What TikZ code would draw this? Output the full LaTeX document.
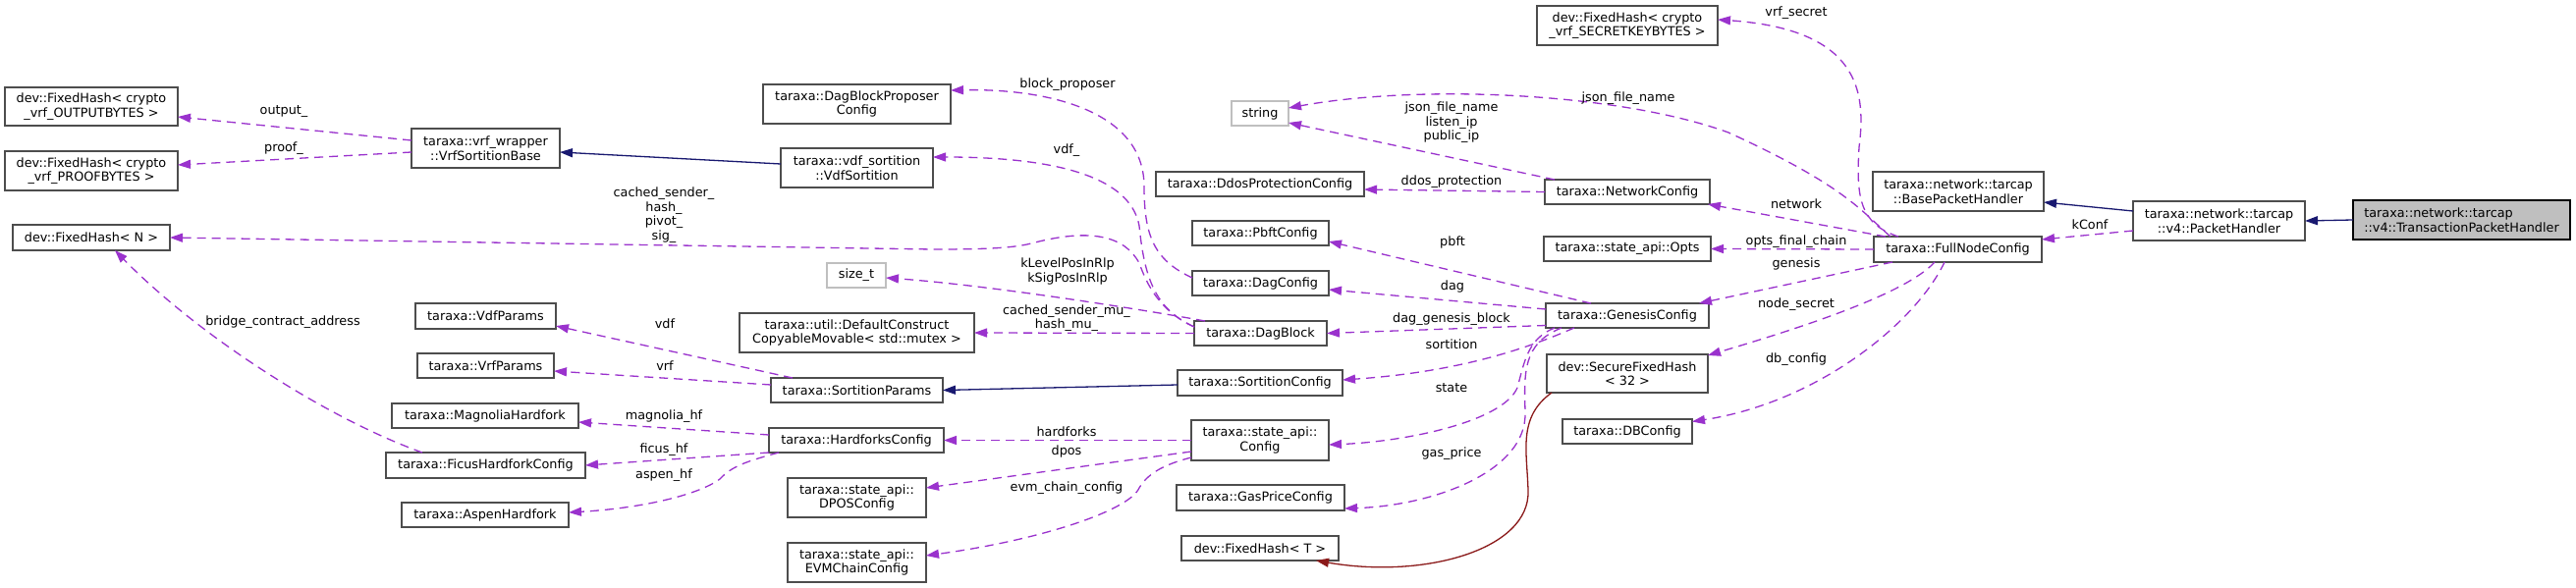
\documentclass[tikz,border=0pt]{standalone}
\usepackage{fontspec}
\setmainfont{DejaVu Sans}
\usetikzlibrary{arrows.meta,calc}
\definecolor{edgepurple}{HTML}{9A32CD}
\definecolor{edgenavy}{HTML}{191970}
\definecolor{edgered}{HTML}{8B1A1A}
\definecolor{boxgray}{HTML}{4D4D4D}
\definecolor{extgray}{HTML}{BFBFBF}
\definecolor{rootfill}{HTML}{BFBFBF}
\begin{document}
\begin{tikzpicture}[x=1pt,y=-1pt,
  every node/.style={font=\fontsize{12.8}{14.5}\selectfont, inner sep=0pt, outer sep=0pt},
  cls/.style={draw=boxgray, line width=1.3pt, fill=white, align=center},
  ext/.style={draw=extgray, line width=1.3pt, fill=white, align=center},
  root/.style={draw=black, line width=1.3pt, fill=rootfill, align=left},
  lbl/.style={align=center},
  tipA/.style={-{Triangle[length=13pt,width=9pt]}},
  use/.style={draw=edgepurple, line width=1.3pt, dash pattern=on 9pt off 6pt, tipA},
  inh/.style={draw=edgenavy, line width=1.3pt, tipA},
  tmpl/.style={draw=edgered, line width=1.3pt, tipA}
]
\fill[white] (0,0) rectangle (2623,599);
\useasboundingbox (0,0) rectangle (2623,599);

% classes
\node[cls, minimum width=176pt, minimum height=39pt] (fhout) at (93,108.5) {dev::FixedHash< crypto\\\_vrf\_OUTPUTBYTES >};
\node[cls, minimum width=176pt, minimum height=40pt] (fhproof) at (93,174) {dev::FixedHash< crypto\\\_vrf\_PROOFBYTES >};
\node[cls, minimum width=160pt, minimum height=26pt] (fhn) at (93,242) {dev::FixedHash< N >};
\node[cls, minimum width=151pt, minimum height=40pt] (vsb) at (494.5,151) {taraxa::vrf\_wrapper\\::VrfSortitionBase};
\node[cls, minimum width=191pt, minimum height=40pt] (dbpc) at (872.5,106) {taraxa::DagBlockProposer\\Config};
\node[cls, minimum width=155pt, minimum height=40pt] (vdfs) at (872.5,171) {taraxa::vdf\_sortition\\::VdfSortition};
\node[ext, minimum width=60pt, minimum height=25pt] (sizet) at (872,280.5) {size\_t};
\node[cls, minimum width=143pt, minimum height=26pt] (vdfp) at (494.5,322) {taraxa::VdfParams};
\node[cls, minimum width=139pt, minimum height=25pt] (vrfp) at (494.5,372.5) {taraxa::VrfParams};
\node[cls, minimum width=190pt, minimum height=25pt] (magn) at (494,423.5) {taraxa::MagnoliaHardfork};
\node[cls, minimum width=203pt, minimum height=26pt] (ficus) at (494.5,474) {taraxa::FicusHardforkConfig};
\node[cls, minimum width=170pt, minimum height=25pt] (aspen) at (494,524.5) {taraxa::AspenHardfork};
\node[cls, minimum width=239pt, minimum height=40pt] (dcm) at (872.5,339) {taraxa::util::DefaultConstruct\\CopyableMovable< std::mutex >};
\node[cls, minimum width=175pt, minimum height=25pt] (sp) at (872.5,397.5) {taraxa::SortitionParams};
\node[cls, minimum width=178pt, minimum height=25pt] (hfc) at (872,448.5) {taraxa::HardforksConfig};
\node[cls, minimum width=141pt, minimum height=40pt] (dpos) at (872.5,507) {taraxa::state\_api::\\DPOSConfig};
\node[cls, minimum width=141pt, minimum height=40pt] (evm) at (872.5,573) {taraxa::state\_api::\\EVMChainConfig};
\node[ext, minimum width=58pt, minimum height=25pt] (str) at (1283,115.5) {string};
\node[cls, minimum width=212pt, minimum height=25pt] (ddos) at (1283,187.5) {taraxa::DdosProtectionConfig};
\node[cls, minimum width=139pt, minimum height=25pt] (pbft) at (1283.5,237.5) {taraxa::PbftConfig};
\node[cls, minimum width=139pt, minimum height=25pt] (dagc) at (1283.5,288.5) {taraxa::DagConfig};
\node[cls, minimum width=135pt, minimum height=25pt] (dagb) at (1283.5,339.5) {taraxa::DagBlock};
\node[cls, minimum width=168pt, minimum height=26pt] (sc) at (1283,390) {taraxa::SortitionConfig};
\node[cls, minimum width=140pt, minimum height=41pt] (sapic) at (1283,448.5) {taraxa::state\_api::\\Config};
\node[cls, minimum width=171pt, minimum height=26pt] (gas) at (1283.5,507) {taraxa::GasPriceConfig};
\node[cls, minimum width=160pt, minimum height=25pt] (fht) at (1283,558.5) {dev::FixedHash< T >};
\node[cls, minimum width=184pt, minimum height=40pt] (fhsec) at (1657,26) {dev::FixedHash< crypto\\\_vrf\_SECRETKEYBYTES >};
\node[cls, minimum width=168pt, minimum height=25pt] (netc) at (1657,195.5) {taraxa::NetworkConfig};
\node[cls, minimum width=170pt, minimum height=25pt] (opts) at (1657,253.5) {taraxa::state\_api::Opts};
\node[cls, minimum width=166pt, minimum height=25pt] (gen) at (1657,321.5) {taraxa::GenesisConfig};
\node[cls, minimum width=164pt, minimum height=39pt] (sfh) at (1657,380.5) {dev::SecureFixedHash\\< 32 >};
\node[cls, minimum width=132pt, minimum height=25pt] (dbc) at (1657,439.5) {taraxa::DBConfig};
\node[cls, minimum width=174pt, minimum height=40pt] (bph) at (1994,195) {taraxa::network::tarcap\\::BasePacketHandler};
\node[cls, minimum width=171pt, minimum height=26pt] (fnc) at (1993.5,254) {taraxa::FullNodeConfig};
\node[cls, minimum width=175pt, minimum height=40pt] (ph) at (2259.5,225) {taraxa::network::tarcap\\::v4::PacketHandler};
\node[root, minimum width=221pt, minimum height=40pt] (tph) at (2506.5,224) {taraxa::network::tarcap\\::v4::TransactionPacketHandler};

% inheritance
\draw[inh] (tph.west) -- (ph.east);
\draw[inh] ($(ph.west)+(0,-10)$) -- ($(bph.east)+(0,11)$);
\draw[inh] ($(vdfs.west)+(0,-4)$) -- ($(vsb.east)+(0,4)$);
\draw[inh] ($(sc.west)+(0,2)$) -- (sp.east);
% template instance
\draw[tmpl] ($(sfh.south west)+(5,0)$) .. controls (1545,425) and (1555,460) .. (1556,500) .. controls (1558,560) and (1450,590) .. ($(fht.south east)+(-23,0)$);

% usage
\draw[use] ($(ph.west)+(0,10)$) -- ($(fnc.east)+(0,-10)$);
\draw[use] ($(fnc.north west)+(25,0)$) .. controls (1893,228) and (1890,200) .. (1893,150) .. controls (1900,95) and (1895,30) .. ($(fhsec.east)+(0,-6)$);
\draw[use] ($(fnc.north west)+(17,0)$) .. controls (1895,215) and (1880,190) .. (1760,135) .. controls (1650,95) and (1450,85) .. ($(str.east)+(0,-5.5)$);
\draw[use] ($(netc.north west)+(10,0)$) -- ($(str.east)+(0,9.5)$);
\draw[use] ($(fnc.north west)+(12,0)$) -- ($(netc.south east)+(-2,0)$);
\draw[use] (fnc.west) -- (opts.east);
\draw[use] ($(fnc.south west)+(19,0)$) -- ($(gen.north east)+(-10,0)$);
\draw[use] ($(fnc.south west)+(62,0)$) .. controls (1940,300) and (1830,335) .. ($(sfh.east)+(0,-18.5)$);
\draw[use] ($(fnc.south west)+(72,0)$) .. controls (1950,330) and (1850,410) .. ($(dbc.east)+(0,-10)$);
\draw[use] (netc.west) -- ($(ddos.east)+(0,5.5)$);
\draw[use] ($(gen.north west)+(46,0)$) -- ($(pbft.east)+(0,8.5)$);
\draw[use] ($(gen.west)+(0,-6.5)$) -- ($(dagc.east)+(0,6.5)$);
\draw[use] ($(gen.west)+(0,10)$) -- (dagb.east);
\draw[use] ($(gen.south west)+(29,0)$) .. controls (1570,348) and (1500,378) .. ($(sc.east)+(0,-3)$);
\draw[use] ($(gen.south west)+(9,0)$) .. controls (1555,345) and (1552,370) .. (1545,395) .. controls (1530,430) and (1430,450) .. ($(sapic.east)+(0,4.5)$);
\draw[use] ($(gen.south west)+(16,0)$) .. controls (1550,350) and (1552,380) .. (1553,420) .. controls (1555,480) and (1460,515) .. ($(gas.east)+(0,11)$);
\draw[use] ($(dagc.west)+(0,-5.5)$) .. controls (1175,265) and (1165,240) .. (1165,190) .. controls (1165,110) and (1060,90) .. ($(dbpc.east)+(0,-14)$);
\draw[use] ($(dagb.west)+(0,-6.5)$) .. controls (1175,315) and (1165,280) .. (1160,230) .. controls (1150,175) and (1060,160) .. ($(vdfs.east)+(0,-11)$);
\draw[use] ($(dagb.west)+(0,-6.5)$) .. controls (1180,316) and (1168,290) .. (1160,268) .. controls (1145,240) and (1110,232) .. (1050,248) .. controls (1030,253) and (1000,254) .. (950,254) -- (fhn.east);
\draw[use] ($(dagb.north west)+(11,0)$) .. controls (1150,313) and (1000,290) .. ($(sizet.east)+(0,2.5)$);
\draw[use] (dagb.west) -- (dcm.east);
\draw[use] ($(sp.north west)+(22,0)$) -- ($(vdfp.east)+(0,10)$);
\draw[use] ($(sp.west)+(0,-5.5)$) -- ($(vrfp.east)+(0,5.5)$);
\draw[use] ($(hfc.west)+(0,-5.5)$) -- ($(magn.east)+(0,6.5)$);
\draw[use] (hfc.south west) -- (ficus.east);
\draw[use] ($(hfc.south west)+(10,0)$) .. controls (760,470) and (745,475) .. (733,488) .. controls (710,505) and (650,518) .. ($(aspen.east)+(0,-2.5)$);
\draw[use] ($(ficus.north west)+(37,0)$) .. controls (330,425) and (200,340) .. ($(fhn.south)+(24,0)$);
\draw[use] (sapic.west) -- (hfc.east);
\draw[use] ($(sapic.west)+(0,11.5)$) -- ($(dpos.east)+(0,-10)$);
\draw[use] ($(sapic.west)+(0,17.5)$) .. controls (1190,472) and (1170,480) .. (1160,497) .. controls (1150,520) and (1060,550) .. ($(evm.east)+(0,-7)$);
\draw[use] ($(vsb.west)+(0,-8)$) -- ($(fhout.east)+(0,10.5)$);
\draw[use] ($(vsb.west)+(0,4)$) -- ($(fhproof.east)+(0,-6)$);

% labels
\node[lbl] (l1) at (289,114) {output\_};
\node[lbl] (l2) at (289,151) {proof\_};
\node[lbl] (l3) at (288,328) {bridge\_contract\_address};
\node[lbl] (l4) at (676,219) {cached\_sender\_\\hash\_\\pivot\_\\sig\_};
\node[lbl] (l5) at (677,330) {vdf};
\node[lbl] (l6) at (677,373) {vrf};
\node[lbl] (l7) at (676,424) {magnolia\_hf};
\node[lbl] (l8) at (676,458) {ficus\_hf};
\node[lbl] (l9) at (676,484) {aspen\_hf};
\node[lbl] (l10) at (1087,86) {block\_proposer};
\node[lbl] (l11) at (1086,153) {vdf\_};
\node[lbl] (l12) at (1087,276.5) {kLevelPosInRlp\\kSigPosInRlp};
\node[lbl] (l13) at (1086,324) {cached\_sender\_mu\_\\hash\_mu\_};
\node[lbl] (l14) at (1086,440) {hardforks};
\node[lbl] (l15) at (1086,460) {dpos};
\node[lbl] (l16) at (1086,497) {evm\_chain\_config};
\node[lbl] (l17) at (1658,100) {json\_file\_name};
\node[lbl] (l18) at (1478,125) {json\_file\_name\\listen\_ip\\public\_ip};
\node[lbl] (l19) at (1478,185) {ddos\_protection};
\node[lbl] (l20) at (1479,247) {pbft};
\node[lbl] (l21) at (1479,292) {dag};
\node[lbl] (l22) at (1478,325) {dag\_genesis\_block};
\node[lbl] (l23) at (1478,351) {sortition};
\node[lbl] (l24) at (1478,395) {state};
\node[lbl] (l25) at (1478,462) {gas\_price};
\node[lbl] (l26) at (1829,13) {vrf\_secret};
\node[lbl] (l27) at (1829,208) {network};
\node[lbl] (l28) at (1829,246) {opts\_final\_chain};
\node[lbl] (l29) at (1829,269) {genesis};
\node[lbl] (l30) at (1829,310) {node\_secret};
\node[lbl] (l31) at (1829,366) {db\_config};
\node[lbl] (l32) at (2128,229) {kConf};
\end{tikzpicture}
\end{document}
